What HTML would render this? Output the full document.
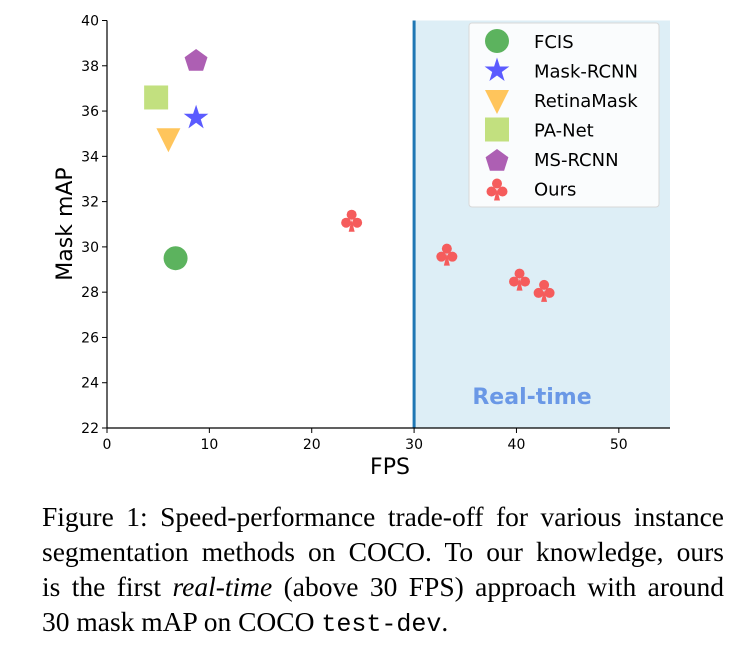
<!DOCTYPE html>
<html><head><meta charset="utf-8"><style>
body{margin:0;background:#fff;width:755px;height:652px;overflow:hidden;position:relative}
svg{position:absolute;left:0;top:0}
#cap{position:absolute;left:42px;top:499px;width:682px;font-family:"Liberation Serif",serif;font-size:27.5px;line-height:35px;color:#000}
#cap div{text-align:justify;text-align-last:justify;white-space:nowrap}
#cap div.last{text-align-last:left}
#cap code{font-family:"Liberation Mono",monospace;font-size:25px}
</style></head><body>
<svg id="chart" width="755" height="490" xmlns="http://www.w3.org/2000/svg" font-family="DejaVu Sans, sans-serif"></svg>
<div id="cap"><div>Figure 1: Speed-performance trade-off for various instance</div><div>segmentation methods on COCO. To our knowledge, ours</div><div>is the first <i>real-time</i> (above 30 FPS) approach with around</div><div class="last">30 mask mAP on COCO <code>test-dev</code>.</div></div>
<script>
const methods=["FCIS","Mask-RCNN","RetinaMask","PA-Net","MS-RCNN"];
const methodFps=[6.7,8.7,6.0,4.8,8.7];
const methodMap=[29.5,35.7,34.8,36.6,38.3];
const oursFps=[23.9,33.2,40.3,42.7];
const oursMap=[31.2,29.7,28.6,28.1];
const xTicks=[0,10,20,30,40,50];
const yTicks=[22,24,26,28,30,32,34,36,38,40];
const colors=["#5cb35e","#5b5bff","#ffc55c","#c2e07f","#ad5fb3","#f55c5c"];
const L=107,R=670,T=20.5,B=428,X0=0,X1=55,Y0=22,Y1=40;
const sx=v=>L+(v-X0)/(X1-X0)*(R-L), sy=v=>B-(v-Y0)/(Y1-Y0)*(B-T);
const svg=document.getElementById('chart');const NS="http://www.w3.org/2000/svg";
function mk(t,a,p){const e=document.createElementNS(NS,t);for(const k in a)e.setAttribute(k,a[k]);(p||svg).appendChild(e);return e;}
let e=mk('rect',{x:sx(30),y:T,width:R-sx(30),height:B-T,fill:"#ddeef6"});

e=mk('line',{x1:sx(30),x2:sx(30),y1:T,y2:B,stroke:"#1f77b4","stroke-width":3});

e=mk('text',{x:532,y:404,"text-anchor":"middle","font-size":22,"font-weight":"bold",fill:"#6a98e6"});e.textContent="Real-time";

mk('line',{x1:L,x2:L,y1:T,y2:B,stroke:"#000","stroke-width":1.2});
mk('line',{x1:L,x2:R,y1:B,y2:B,stroke:"#000","stroke-width":1.2});
xTicks.forEach(v=>{mk('line',{x1:sx(v),x2:sx(v),y1:B,y2:B+5,stroke:"#000"});
 const t=mk('text',{x:sx(v),y:B+21,"text-anchor":"middle","font-size":14});t.textContent=v;
 });
yTicks.forEach(v=>{mk('line',{x1:L-5,x2:L,y1:sy(v),y2:sy(v),stroke:"#000"});
 const t=mk('text',{x:L-8,y:sy(v)+5,"text-anchor":"end","font-size":14});t.textContent=v;
 });
e=mk('text',{x:390,y:474,"text-anchor":"middle","font-size":22});e.textContent="FPS";

e=mk('text',{x:0,y:0,"text-anchor":"middle","font-size":22,transform:"translate(72,224) rotate(-90)"});e.textContent="Mask mAP";

function marker(i,x,y,s){const c=colors[i];let el;
 if(i==0)el=mk('circle',{cx:x,cy:y,r:12*s,fill:c});
 else if(i==1){let p=[];for(let k=0;k<10;k++){const r=k%2?5*s:13*s,a=-Math.PI/2+k*Math.PI/5;p.push((x+r*Math.cos(a)).toFixed(1)+","+(y+r*Math.sin(a)).toFixed(1));}el=mk('polygon',{points:p.join(" "),fill:c});}
 else if(i==2)el=mk('polygon',{points:`${x-12*s},${y-10*s} ${x+12*s},${y-10*s} ${x},${y+14*s}`,fill:c});
 else if(i==3)el=mk('rect',{x:x-12*s,y:y-12*s,width:24*s,height:24*s,fill:c});
 else if(i==4){let p=[];for(let k=0;k<5;k++){const a=-Math.PI/2+k*2*Math.PI/5;p.push((x+12*s*Math.cos(a)).toFixed(1)+","+(y+2+12*s*Math.sin(a)).toFixed(1));}el=mk('polygon',{points:p.join(" "),fill:c});}
 else{el=mk('g',{fill:c});mk('circle',{cx:x,cy:y-5*s,r:5*s},el);mk('circle',{cx:x-5.5*s,cy:y+3*s,r:5*s},el);mk('circle',{cx:x+5.5*s,cy:y+3*s,r:5*s},el);mk('polygon',{points:`${x},${y} ${x-3*s},${y+12*s} ${x+3*s},${y+12*s}`},el);}
 return el;}
methods.forEach((m,i)=>{const el=marker(i,sx(methodFps[i]),sy(methodMap[i]),1);
 });
oursFps.forEach((f,i)=>{const el=marker(5,sx(f),sy(oursMap[i]),1);
 });
const lg=mk('g',{});
mk('rect',{x:469,y:23,width:190,height:184,rx:3,fill:"#fafcfd",stroke:"#d8d8d8"},lg);
methods.concat(["Ours"]).forEach((m,i)=>{const y=41+i*29.5;const el=marker(i,497,y,1);lg.appendChild(el);
 
 const t=mk('text',{x:534,y:y+7,"font-size":18},lg);t.textContent=m;
 });
</script>
</body></html>
